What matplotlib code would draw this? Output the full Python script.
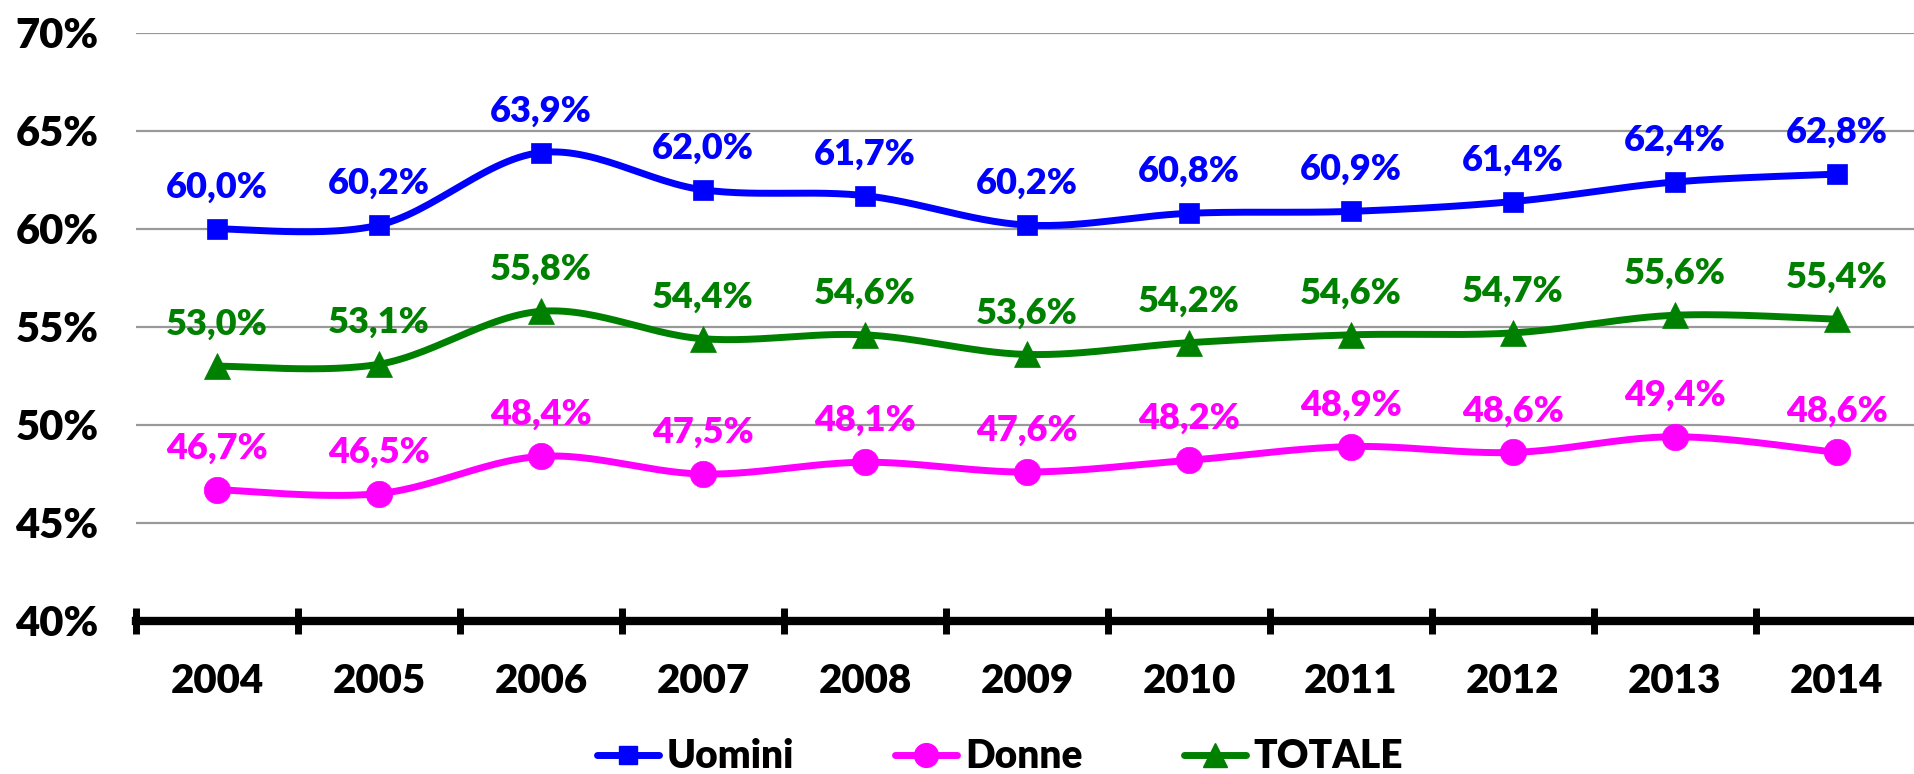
import numpy as np
import matplotlib
matplotlib.use("Agg")
import matplotlib.pyplot as plt
from matplotlib.lines import Line2D

plt.rcParams['font.family'] = ['Lato', 'DejaVu Sans']
W = 'heavy'
plt.rcParams['font.weight'] = W

years = ['2004', '2005', '2006', '2007', '2008', '2009', '2010', '2011', '2012', '2013', '2014']
uomini = [60.0, 60.2, 63.9, 62.0, 61.7, 60.2, 60.8, 60.9, 61.4, 62.4, 62.8]
donne = [46.7, 46.5, 48.4, 47.5, 48.1, 47.6, 48.2, 48.9, 48.6, 49.4, 48.6]
totale = [53.0, 53.1, 55.8, 54.4, 54.6, 53.6, 54.2, 54.6, 54.7, 55.6, 55.4]
yticks = [40, 45, 50, 55, 60, 65, 70]

series = [
    ('Uomini', uomini, '#0000FF', 's', 14),
    ('Donne', donne, '#FF00FF', 'o', 19),
    ('TOTALE', totale, '#008000', '^', 19),
]


def smooth(x, y, n=30):
    """Excel-like smoothed line (Catmull-Rom as cubic Bezier)."""
    x = np.asarray(x, float)
    y = np.asarray(y, float)
    px = np.concatenate([[x[0]], x, [x[-1]]])
    py = np.concatenate([[y[0]], y, [y[-1]]])
    xs, ys = [], []
    t = np.linspace(0, 1, n)
    for i in range(len(x) - 1):
        p0 = np.array([px[i + 1], py[i + 1]])
        p3 = np.array([px[i + 2], py[i + 2]])
        p1 = p0 + (p3 - np.array([px[i], py[i]])) / 6.0
        p2 = p3 - (np.array([px[i + 3], py[i + 3]]) - p0) / 6.0
        b = ((1 - t) ** 3)[:, None] * p0 + (3 * (1 - t) ** 2 * t)[:, None] * p1 \
            + (3 * (1 - t) * t ** 2)[:, None] * p2 + (t ** 3)[:, None] * p3
        xs.append(b[:, 0])
        ys.append(b[:, 1])
    return np.concatenate(xs), np.concatenate(ys)


fig = plt.figure(figsize=(19.14, 7.74), dpi=100)
ax = fig.add_axes([136 / 1914, (774 - 621) / 774, 1782 / 1914, (621 - 33) / 774])

x = np.arange(len(years))
handles = []
for name, vals, col, mk, ms in series:
    sx, sy = smooth(x, vals)
    ax.plot(sx, sy, color=col, lw=5, solid_capstyle='round', zorder=3)
    ax.plot(x, vals, linestyle='none', marker=mk, markersize=ms, color=col,
            markeredgewidth=0.5, zorder=4)
    for xi, v in zip(x, vals):
        ax.annotate(f"{v:.1f}%".replace('.', ','), (xi, v), xytext=(0, 30),
                    textcoords='offset points', ha='center', va='center',
                    color=col, fontsize=26, fontweight=W, zorder=5)
    handles.append(Line2D([], [], color=col, lw=5, marker=mk, markersize=ms * 0.9,
                          solid_capstyle='round', label=name))

ax.set_xlim(-0.5, len(years) - 0.5)
ax.set_ylim(40, 70)
ax.set_yticks(yticks)
ax.set_yticklabels([f"{v}%" for v in yticks], fontsize=30, fontweight=W)
ax.tick_params(axis='y', length=0, pad=27)
for v in yticks[1:]:
    ax.axhline(v, color='#999999', lw=1.6, zorder=1)

ax.set_xticks(x)
ax.set_xticklabels(years, fontsize=29, fontweight=W)
ax.set_xticks(np.arange(-0.5, len(years), 1.0), minor=True)
ax.tick_params(axis='x', which='major', length=0, pad=30)
ax.tick_params(axis='x', which='minor', length=19, width=5, direction='inout', color='black')

for s in ['top', 'right', 'left']:
    ax.spines[s].set_visible(False)
ax.spines['bottom'].set_linewidth(6)
ax.spines['bottom'].set_color('black')
ax.spines['bottom'].set_zorder(6)

fig.legend(handles=handles, loc='center', bbox_to_anchor=(1000 / 1914, 17 / 774),
           ncol=3, frameon=False, handlelength=1.6, handletextpad=0.2,
           columnspacing=2.6, prop={'weight': W, 'size': 28})

fig.savefig('out.png', dpi=100, facecolor='white')
